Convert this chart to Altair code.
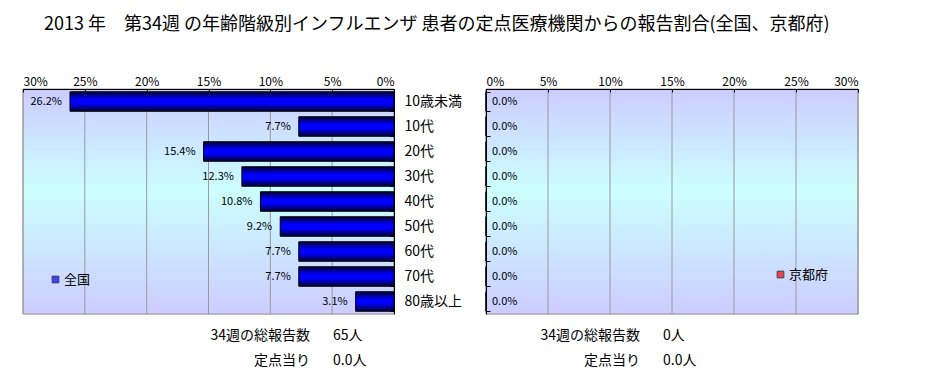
import altair as alt
import pandas as pd

FONT = "Noto Sans CJK JP"

# ---- data ----
ages = ["10歳未満", "10代", "20代", "30代", "40代", "50代", "60代", "70代", "80歳以上"]
national = [26.2, 7.7, 15.4, 12.3, 10.8, 9.2, 7.7, 7.7, 3.1]
kyoto = [0.0, 0.0, 0.0, 0.0, 0.0, 0.0, 0.0, 0.0, 0.0]
x_ticks = [0, 5, 10, 15, 20, 25, 30]
title_text = "2013 年　第34週 の年齢階級別インフルエンザ 患者の定点医療機関からの報告割合(全国、京都府)"
summary_labels = ["34週の総報告数", "定点当り"]
national_summary = ["65人", "0.0人"]
kyoto_summary = ["0人", "0.0人"]

df_nat = pd.DataFrame({"age": ages, "value": national,
                       "label": [f"{v:.1f}%" for v in national]})
df_kyo = pd.DataFrame({"age": ages, "value": kyoto,
                       "label": [f"{v:.1f}%" for v in kyoto]})
df_ticks = pd.DataFrame({"tick": x_ticks})
df_one = pd.DataFrame({"a": [0]})

bg_grad = {"gradient": "linear", "x1": 0, "y1": 0, "x2": 0, "y2": 1,
           "stops": [{"offset": 0, "color": "#ccccff"},
                     {"offset": 0.45, "color": "#ccffff"},
                     {"offset": 1, "color": "#ccccff"}]}
bar_grad = {"gradient": "linear", "x1": 0, "y1": 0, "x2": 0, "y2": 1,
            "stops": [{"offset": 0, "color": "#000030"},
                      {"offset": 0.4, "color": "#0000ff"},
                      {"offset": 0.6, "color": "#0000ff"},
                      {"offset": 1, "color": "#000030"}]}

neg_tick = alt.ExprRef(expr="-4")
neg_tick_x = alt.ExprRef(expr="-3")


def x_axis():
    return alt.Axis(orient="top", values=x_ticks, labelExpr="datum.value + '%'",
                    title=None, grid=False, domainColor="black", zindex=1,
                    tickColor="black", tickSize=neg_tick_x, labelPadding=4,
                    labelFontSize=12, labelColor="black", labelFont=FONT)


def background():
    return alt.Chart(df_one).mark_rect(fill=bg_grad, stroke="#9a9a9a", strokeWidth=1).encode(
        x=alt.value(0), x2=alt.value("width"), y=alt.value(0), y2=alt.value("height"))


def gridlines(data):
    return alt.Chart(data).mark_rule(color="#9a9a9a", strokeWidth=1).encode(x=alt.X("tick:Q"))


def legend(name, color, lx, ly):
    return alt.Chart(pd.DataFrame({"series": [name]})).mark_square().encode(
        color=alt.Color("series:N", scale=alt.Scale(domain=[name], range=[color]),
                        legend=alt.Legend(orient="none", legendX=lx, legendY=ly, title=None,
                                          symbolType="square", symbolSize=45,
                                          symbolStrokeColor="black", symbolStrokeWidth=1,
                                          labelFontSize=13, labelFont=FONT, labelColor="black",
                                          labelOffset=2))
    ).transform_filter("false")


def annotation(lines, align, x):
    return alt.Chart(alt.Data(values=[{"t": lines}])).mark_text(
        align=align, baseline="top", fontSize=14, lineHeight=25, font=FONT, color="black").encode(
        text="t:N", x=alt.value(x), y=alt.value(240))


y_scale = alt.Scale(paddingInner=0.22, paddingOuter=0.11)

# ---- left panel (全国) ----
xl = alt.X("value:Q", scale=alt.Scale(domain=[0, 30], reverse=True, nice=False), axis=x_axis())
yl = alt.Y("age:N", sort=ages, scale=y_scale,
           axis=alt.Axis(orient="right", title=None, labelFontSize=14, labelPadding=14,
                         labelColor="black", labelFont=FONT, tickSize=neg_tick, zindex=1,
                         tickBand="extent", domainColor="black", tickColor="black",
                         grid=False))

base_l = alt.Chart(df_nat)
bars_l = base_l.mark_bar(fill=bar_grad, stroke="black", strokeWidth=1).encode(x=xl, y=yl)
text_l = base_l.mark_text(align="right", dx=-8, fontSize=11, font=FONT, color="black").encode(
    x="value:Q", y=alt.Y("age:N", sort=ages), text="label:N")

left = alt.layer(
    background(), gridlines(df_ticks), bars_l, text_l,
    legend("全国", "#0000ff", 26, 184),
    annotation(summary_labels, "right", 287), annotation(national_summary, "left", 310),
).properties(width=371, height=225)

# ---- right panel (京都府) ----
xr = alt.X("value:Q", scale=alt.Scale(domain=[0, 30], nice=False), axis=x_axis())
yr = alt.Y("age:N", sort=ages, scale=y_scale,
           axis=alt.Axis(orient="left", title=None, labels=False, tickSize=neg_tick, zindex=1,
                         tickBand="extent", domainColor="black", tickColor="black",
                         grid=False))
base_r = alt.Chart(df_kyo)
bars_r = base_r.mark_bar(fill="#ff0000", stroke="black", strokeWidth=1).encode(x=xr, y=yr)
text_r = base_r.mark_text(align="left", dx=6, fontSize=11, font=FONT, color="black").encode(
    x="value:Q", y=alt.Y("age:N", sort=ages), text="label:N")

right = alt.layer(
    background(), gridlines(df_ticks), bars_r, text_r,
    legend("京都府", "#ff0000", 288, 179),
    annotation(summary_labels, "right", 154), annotation(kyoto_summary, "left", 177),
).properties(width=372, height=225)

chart = alt.hconcat(left, right, spacing=92, bounds="flush").resolve_scale(
    color="independent").resolve_legend(color="independent").properties(
    title=alt.TitleParams(title_text, anchor="start", dx=22, offset=41, fontSize=18,
                          font=FONT, fontWeight="normal", color="black"),
    padding={"left": 14, "top": 7, "right": 10, "bottom": 0},
).configure_view(stroke=None).configure(font=FONT, background="white")

chart.save("out.html", embed_options={"renderer": "svg", "actions": False})
